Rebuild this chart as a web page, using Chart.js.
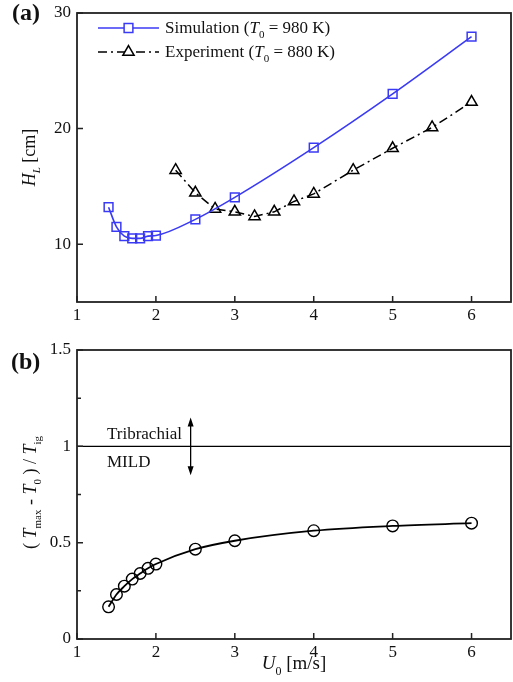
<!DOCTYPE html>
<html>
<head>
<meta charset="utf-8">
<script src="https://cdn.jsdelivr.net/npm/chart.js@4.4.1/dist/chart.umd.min.js"></script>
<style>
  body { margin: 0; background: #fff; overflow: hidden; }
  #wrapA { position: absolute; left: 0; top: 0; }
  #wrapB { position: absolute; left: 0; top: 340px; }
  canvas { display: block; }
</style>
</head>
<body>
<div id="wrapA"><canvas id="chartA" width="513" height="340"></canvas></div>
<div id="wrapB"><canvas id="chartB" width="513" height="342"></canvas></div>
<script>
// --- data ---
// (a) flame lift-off height vs inlet velocity
const simU  = [1.4, 1.5, 1.6, 1.7, 1.8, 1.9, 2.0, 2.5, 3.0, 4.0, 5.0, 6.0];
const simHL = [13.2, 11.5, 10.7, 10.5, 10.5, 10.7, 10.75, 12.15, 14.05, 18.35, 23.0, 27.95];
const expU  = [2.25, 2.5, 2.75, 3.0, 3.25, 3.5, 3.75, 4.0, 4.5, 5.0, 5.5, 6.0];
const expHL = [16.4, 14.45, 13.05, 12.8, 12.4, 12.8, 13.7, 14.35, 16.4, 18.3, 20.1, 22.3];

// (b) normalised temperature rise vs inlet velocity
const ratioU = [1.4, 1.5, 1.6, 1.7, 1.8, 1.9, 2.0, 2.5, 3.0, 4.0, 5.0, 6.0];
const ratioT = [0.167, 0.231, 0.274, 0.311, 0.34, 0.367, 0.389, 0.466, 0.51, 0.562, 0.587, 0.601];
const limitU = [1, 6.5];
const limitT = [1, 1];

// tick values
const xTicks  = [1, 2, 3, 4, 5, 6];
const yTicksA = [10, 20, 30];
const yTicksB = [0, 0.25, 0.5, 0.75, 1, 1.25, 1.5];

const SERIF = '"Liberation Serif", "Times New Roman", serif';
const BLUE = '#3a3af5';
const AXIS = '#222';

function fontFor(style, size) {
  const s = style.includes('sub') ? Math.round(size * 0.62) : size;
  return (style.startsWith('i') ? 'italic ' : '') + s + 'px ' + SERIF;
}

// parts: [[text, style]], style '' | 'i' | 'sub'
function drawRich(ctx, parts, x, y, size, align) {
  let w = 0;
  parts.forEach(p => { ctx.font = fontFor(p[1], size); w += ctx.measureText(p[0]).width; });
  let cx = align === 'center' ? x - w / 2 : x;
  parts.forEach(p => {
    ctx.font = fontFor(p[1], size);
    const dy = p[1].includes('sub') ? size * 0.3 : 0;
    ctx.fillText(p[0], cx, y + dy);
    cx += ctx.measureText(p[0]).width;
  });
}

// box around plot + inward ticks
const frame = {
  id: 'frame',
  afterDatasetsDraw(chart) {
    const { ctx, chartArea: a, scales: { x, y } } = chart;
    ctx.save();
    ctx.strokeStyle = AXIS;
    ctx.lineWidth = 1.8;
    ctx.strokeRect(a.left, a.top, a.right - a.left, a.bottom - a.top);
    ctx.lineWidth = 1.5;
    ctx.beginPath();
    x.ticks.forEach(t => {
      const px = x.getPixelForValue(t.value);
      ctx.moveTo(px, a.bottom);
      ctx.lineTo(px, a.bottom - 6);
    });
    y.ticks.forEach(t => {
      const py = y.getPixelForValue(t.value);
      ctx.moveTo(a.left, py);
      ctx.lineTo(a.left + (t.label ? 6 : 4), py);
    });
    ctx.stroke();
    ctx.restore();
  }
};

const tickFont = { family: SERIF, size: 17 };

function axes(yMin, yMax, yTicks, xHeight, yLabel) {
  return {
    x: {
      type: 'linear', min: 1, max: 6.5,
      afterBuildTicks: s => { s.ticks = xTicks.map(v => ({ value: v })); },
      afterFit: s => { s.height = xHeight; s.paddingLeft = 0; s.paddingRight = 0; },
      grid: { display: false, drawTicks: false },
      border: { display: false },
      ticks: { font: tickFont, color: '#111', padding: 3, maxRotation: 0 }
    },
    y: {
      type: 'linear', min: yMin, max: yMax,
      afterBuildTicks: s => { s.ticks = yTicks.map(v => ({ value: v })); },
      afterFit: s => { s.width = 77; s.paddingTop = 0; s.paddingBottom = 0; },
      grid: { display: false, drawTicks: false },
      border: { display: false },
      ticks: { font: tickFont, color: '#111', padding: 6, callback: yLabel }
    }
  };
}

// --- (a) annotations: panel label, legend, axis title ---
const annotA = {
  id: 'annotA',
  afterDraw(chart) {
    const ctx = chart.ctx;
    const a = chart.chartArea;
    ctx.save();
    ctx.fillStyle = '#111';
    ctx.textBaseline = 'alphabetic';
    ctx.font = 'bold 24px ' + SERIF;
    ctx.fillText('(a)', 12, 20);

    // legend
    const rows = [
      { ds: chart.data.datasets[0], y: 28, text: [['Simulation (', ''], ['T', 'i'], ['0', 'sub'], [' = 980 K)', '']] },
      { ds: chart.data.datasets[1], y: 52, text: [['Experiment (', ''], ['T', 'i'], ['0', 'sub'], [' = 880 K)', '']] }
    ];
    rows.forEach(r => {
      ctx.strokeStyle = r.ds.borderColor;
      ctx.lineWidth = r.ds.borderWidth;
      ctx.setLineDash(r.ds.borderDash || []);
      ctx.beginPath();
      ctx.moveTo(98, r.y);
      ctx.lineTo(159, r.y);
      ctx.stroke();
      ctx.setLineDash([]);
      ctx.lineWidth = r.ds.pointBorderWidth;
      ctx.fillStyle = '#fff';
      Chart.helpers.drawPoint(ctx, {
        pointStyle: r.ds.pointStyle, radius: r.ds.pointRadius,
        borderWidth: r.ds.pointBorderWidth, rotation: 0
      }, 128.5, r.y);
      ctx.fillStyle = '#111';
      drawRich(ctx, r.text, 165, r.y + 5, 17, 'left');
    });

    // y axis title
    ctx.translate(35, (a.top + a.bottom) / 2);
    ctx.rotate(-Math.PI / 2);
    drawRich(ctx, [['H', 'i'], ['L', 'isub'], [' [cm]', '']], 0, 0, 18, 'center');
    ctx.restore();
  }
};

new Chart(document.getElementById('chartA'), {
  type: 'line',
  data: {
    datasets: [
      {
        label: 'Simulation',
        data: simU.map((u, i) => ({ x: u, y: simHL[i] })),
        borderColor: BLUE, borderWidth: 1.6,
        pointStyle: 'rect', pointRadius: 6.2, pointBorderWidth: 1.5,
        pointBorderColor: BLUE, pointBackgroundColor: 'rgba(255,255,255,0)',
        cubicInterpolationMode: 'monotone'
      },
      {
        label: 'Experiment',
        data: expU.map((u, i) => ({ x: u, y: expHL[i] })),
        borderColor: '#000', borderWidth: 1.5, borderDash: [9, 4, 2, 4],
        pointStyle: 'triangle', pointRadius: 6.5, pointBorderWidth: 1.5,
        pointBorderColor: '#000', pointBackgroundColor: 'rgba(255,255,255,0)'
      }
    ]
  },
  options: {
    responsive: false,
    animation: false,
    layout: { autoPadding: false, padding: { top: 13, right: 2, left: 0, bottom: 0 } },
    plugins: { legend: { display: false }, tooltip: { enabled: false } },
    scales: axes(5, 30, yTicksA, 38, v => String(v))
  },
  plugins: [frame, annotA]
});

// --- (b) annotations: panel label, regime labels, arrow, axis titles ---
const annotB = {
  id: 'annotB',
  afterDraw(chart) {
    const { ctx, chartArea: a, scales: { x, y } } = chart;
    ctx.save();
    ctx.fillStyle = '#111';
    ctx.textBaseline = 'alphabetic';
    ctx.font = 'bold 24px ' + SERIF;
    ctx.fillText('(b)', 11, 29);

    ctx.font = '17px ' + SERIF;
    ctx.fillText('Tribrachial', x.getPixelForValue(1.38), y.getPixelForValue(1) - 7);
    ctx.fillText('MILD', x.getPixelForValue(1.38), y.getPixelForValue(1) + 21);

    // double-headed arrow
    const ax = x.getPixelForValue(2.44);
    const top = y.getPixelForValue(1.15);
    const bot = y.getPixelForValue(0.85);
    ctx.strokeStyle = '#000';
    ctx.lineWidth = 1.3;
    ctx.beginPath();
    ctx.moveTo(ax, top + 6);
    ctx.lineTo(ax, bot - 6);
    ctx.stroke();
    ctx.fillStyle = '#000';
    ctx.beginPath();
    ctx.moveTo(ax, top); ctx.lineTo(ax - 3, top + 9); ctx.lineTo(ax + 3, top + 9); ctx.closePath();
    ctx.moveTo(ax, bot); ctx.lineTo(ax - 3, bot - 9); ctx.lineTo(ax + 3, bot - 9); ctx.closePath();
    ctx.fill();

    ctx.fillStyle = '#111';
    drawRich(ctx, [['U', 'i'], ['0', 'sub'], [' [m/s]', '']], (a.left + a.right) / 2, 329, 19, 'center');

    ctx.translate(36, (a.top + a.bottom) / 2 - 2);
    ctx.rotate(-Math.PI / 2);
    drawRich(ctx, [['( ', ''], ['T', 'i'], ['max', 'sub'], [' - ', ''], ['T', 'i'], ['0', 'sub'],
                   [' ) / ', ''], ['T', 'i'], ['ig', 'sub']], 0, 0, 18, 'center');
    ctx.restore();
  }
};

new Chart(document.getElementById('chartB'), {
  type: 'line',
  data: {
    datasets: [
      {
        label: 'limit',
        data: limitU.map((u, i) => ({ x: u, y: limitT[i] })),
        borderColor: '#000', borderWidth: 1.3, pointRadius: 0
      },
      {
        label: 'ratio',
        data: ratioU.map((u, i) => ({ x: u, y: ratioT[i] })),
        borderColor: '#000', borderWidth: 1.8,
        pointStyle: 'circle', pointRadius: 5.8, pointBorderWidth: 1.4,
        pointBorderColor: '#000', pointBackgroundColor: 'rgba(255,255,255,0)',
        cubicInterpolationMode: 'monotone'
      }
    ]
  },
  options: {
    responsive: false,
    animation: false,
    layout: { autoPadding: false, padding: { top: 10, right: 2, left: 0, bottom: 0 } },
    plugins: { legend: { display: false }, tooltip: { enabled: false } },
    scales: axes(0, 1.5, yTicksB, 43, v => (Math.abs(v * 2 - Math.round(v * 2)) < 1e-9 ? String(v) : ''))
  },
  plugins: [frame, annotB]
});
</script>
</body>
</html>
